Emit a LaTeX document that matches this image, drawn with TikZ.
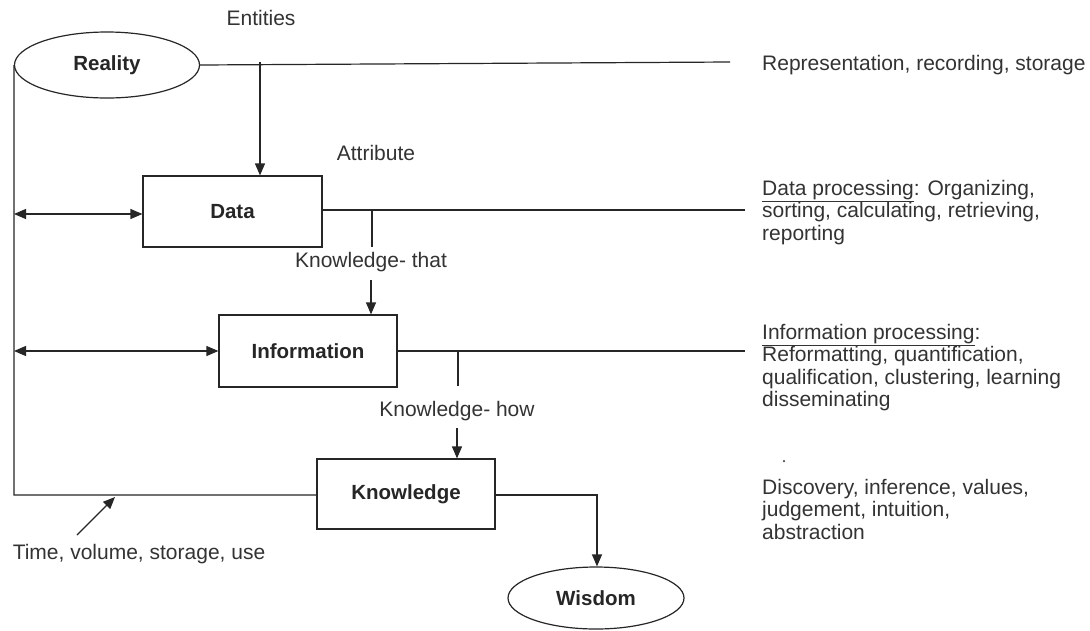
\documentclass[tikz,border=0pt]{standalone}
\usepackage{fontspec}
\setmainfont{Liberation Sans}
\usetikzlibrary{arrows.meta,shapes.geometric}
\begin{document}
\begin{tikzpicture}[x=1pt,y=-1pt,
  ink/.style={draw=black!85, line width=1.2pt},
  tip/.style={-{Triangle[length=12pt,width=10pt]}},
  bitip/.style={{Triangle[length=12pt,width=10pt]}-{Triangle[length=12pt,width=10pt]}},
  oval/.style={ellipse, ink, inner sep=0pt, font=\bfseries\fontsize{20.5}{24}\selectfont, text=black!85},
  stepbox/.style={rectangle, ink, inner sep=0pt, font=\bfseries\fontsize{20.5}{24}\selectfont, text=black!85},
  lbl/.style={inner sep=0pt, font=\fontsize{21}{24}\selectfont, text=black!80},
  note/.style={inner sep=0pt, anchor=north west, align=left, font=\fontsize{21}{22.5}\selectfont, text=black!80}
]
\useasboundingbox (0,0) rectangle (1090,630);
\fill[white] (0,0) rectangle (1090,630);

% main nodes
\node[oval, minimum width=185pt, minimum height=66pt] (reality) at (107,65) {Reality};
\node[stepbox, minimum width=179pt, minimum height=71pt] (data) at (232.5,211.5) {Data};
\node[stepbox, minimum width=178pt, minimum height=72pt] (info) at (308,351) {Information};
\node[stepbox, minimum width=178pt, minimum height=70pt] (know) at (406,494) {Knowledge};
\node[oval, minimum width=176pt, minimum height=62pt] (wisdom) at (596,598) {Wisdom};

% labels
\node[lbl] (entities) at (261,18) {Entities};
\node[lbl] (attribute) at (376,153) {Attribute};
\node[lbl] (kthat) at (371,262) {Knowledge- that};
\node[lbl] (khow) at (457,411) {Knowledge- how};
\node[lbl] (tvsu) at (139,554) {Time, volume, storage, use};

% right-hand descriptions
\node[note] (rrs) at (762,55) {Representation, recording, storage};
\node[note] (dp) at (762,180) {\underline{Data processing}: Organizing,\\sorting, calculating, retrieving,\\reporting};
\node[note] (ip) at (762,324) {\underline{Information processing}:\\Reformatting, quantification,\\qualification, clustering, learning\\disseminating};
\node[note] (kp) at (762,479) {Discovery, inference, values,\\judgement, intuition,\\abstraction};
\node[fill=black!70, circle, inner sep=0pt, minimum size=2.5pt] (dot) at (784,461) {};

% line ends and branch points
\coordinate (rEnd) at (730,62);
\coordinate (dEnd) at (745,210);
\coordinate (iEnd) at (745,351);
\coordinate (rDrop) at (260,62);
\coordinate (dTick) at (372,247);
\coordinate (iTick) at (458,386);
\coordinate (corner) at (14,495);
\coordinate (kTurn) at (597,495);
\coordinate (tvsuTail) at (77,535);
\coordinate (tvsuHead) at (115,497);

% horizontal processing lines
\draw[ink] (reality.east) -- (rEnd);
\draw[ink] (data.east |- dEnd) -- (dEnd);
\draw[ink] (info.east) -- (iEnd);
\draw[ink] (dTick |- dEnd) -- (dTick);
\draw[ink] (iTick |- iEnd) -- (iTick);

% flow downward
\draw[ink, tip] (rDrop) -- (rDrop |- data.north);
\draw[ink, tip] (kthat.south |- 0,280) -- (kthat.south |- info.north);
\draw[ink, tip] (khow.south |- 0,428) -- (khow.south |- know.north);
\draw[ink, tip] (know.east |- kTurn) -- (kTurn) -- (wisdom.north -| kTurn);

% feedback loop on the left
\draw[ink] (reality.west) -- (corner) -- (know.west |- corner);
\draw[ink, bitip] (corner |- 0,214) -- (data.west |- 0,214);
\draw[ink, bitip] (corner |- info.west) -- (info.west);
\draw[ink, tip] (tvsuTail) -- (tvsuHead);
\end{tikzpicture}
\end{document}
